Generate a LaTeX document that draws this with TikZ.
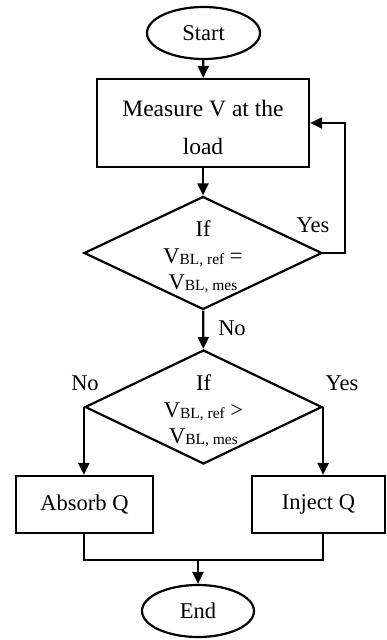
\documentclass[tikz,border=0pt]{standalone}
\usepackage{fontspec}
\setmainfont{Liberation Serif}
\usetikzlibrary{shapes.geometric,arrows.meta}
\newcommand{\subtxt}[1]{\raisebox{-0.1ex}{\fontsize{15.5}{15.5}\selectfont #1}}
\begin{document}
\begin{tikzpicture}[x=1pt,y=-1pt,
  line width=2.2pt,
  term/.style={draw, ellipse, inner sep=0pt, font=\fontsize{22.5}{27}\selectfont},
  proc/.style={draw, rectangle, inner sep=0pt, align=center, font=\fontsize{22.5}{27}\selectfont},
  dec/.style={draw, diamond, inner sep=0pt},
  lbl/.style={inner sep=0pt, align=center, font=\fontsize{22.5}{26.5}\selectfont},
  arr/.style={-{Triangle[length=12pt,width=11pt]}}]
\useasboundingbox (0,0) rectangle (387,640);
\node[term, minimum width=113, minimum height=52] (start) at (203.5,33) {Start};
\node[proc, minimum width=212, minimum height=88] (meas) at (203,123) {};
\node[lbl, font=\fontsize{23.5}{38}\selectfont] (mt) at (203,127) {Measure V at the\\load};
\node[dec, minimum width=238, minimum height=113] (d1) at (203,253) {};
\node[lbl] (t1) at (203,257) {If\\V\subtxt{BL, ref} =\\V\subtxt{BL, mes}};
\node[dec, minimum width=237, minimum height=114] (d2) at (203.5,407) {};
\node[lbl] (t2) at (203.5,411) {If\\V\subtxt{BL, ref} >\\V\subtxt{BL, mes}};
\node[proc, minimum width=137, minimum height=57] (absorb) at (84.5,504.5) {Absorb Q};
\node[proc, minimum width=133, minimum height=57] (inject) at (318.5,504.5) {Inject Q};
\node[term, minimum width=112, minimum height=52] (end) at (198,611) {End};
\coordinate (loop) at (345,253);
\coordinate (m) at (198,560);
\draw[arr] (start) -- (meas);
\draw[arr] (meas) -- (d1);
\draw[arr] (d1.east) -- (loop) |- (meas.east);
\node[lbl] (yes1) at (313,225) {Yes};
\draw[arr] (d1) -- (d2);
\node[lbl] (no1) at (232,328) {No};
\draw[arr] (d2.west) -- (d2.west |- absorb.north);
\draw[arr] (d2.east) -- (d2.east |- inject.north);
\node[lbl] (no2) at (85,383) {No};
\node[lbl] (yes2) at (342,383) {Yes};
\draw (d2.west |- absorb.south) |- (m) -| (d2.east |- inject.south);
\draw[arr] (m) -- (end);
\end{tikzpicture}
\end{document}
